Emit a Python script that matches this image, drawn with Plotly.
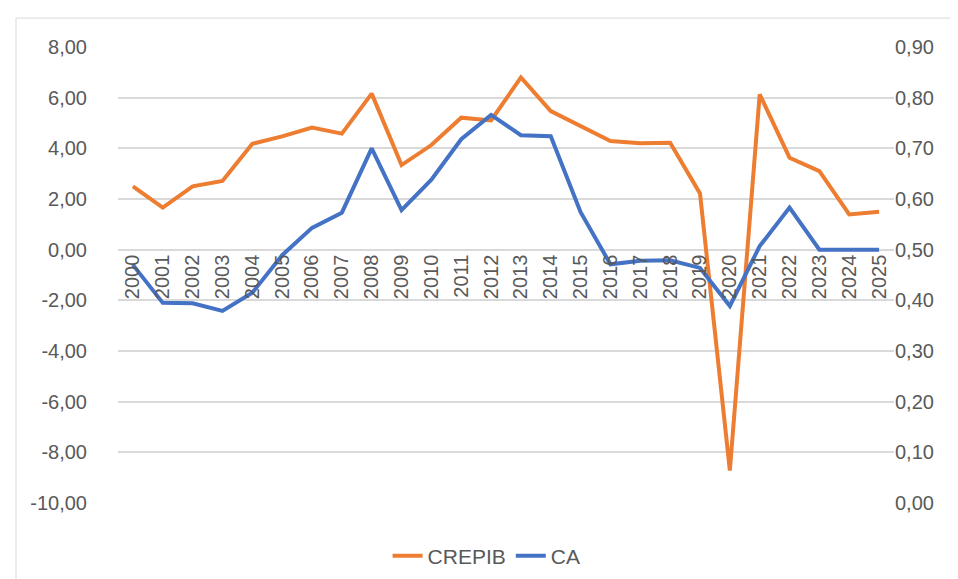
import plotly.graph_objects as go

years = list(range(2000, 2026))
crepib = [2.50, 1.66, 2.50, 2.71, 4.18, 4.47, 4.82, 4.58, 6.16, 3.34, 4.13, 5.21, 5.10,
          6.80, 5.47, 4.88, 4.29, 4.20, 4.22, 2.22, -8.72, 6.13, 3.63, 3.10, 1.39, 1.50]
ca = [0.470, 0.395, 0.394, 0.379, 0.415, 0.489, 0.543, 0.573, 0.700, 0.578, 0.638, 0.718, 0.766,
      0.726, 0.724, 0.574, 0.471, 0.478, 0.479, 0.464, 0.389, 0.507, 0.583, 0.500, 0.500, 0.500]

left_ticks = [-10, -8, -6, -4, -2, 0, 2, 4, 6, 8]
left_labels = ["-10,00", "-8,00", "-6,00", "-4,00", "-2,00", "0,00", "2,00", "4,00", "6,00", "8,00"]
right_ticks = [0.0, 0.1, 0.2, 0.3, 0.4, 0.5, 0.6, 0.7, 0.8, 0.9]
right_labels = ["0,00", "0,10", "0,20", "0,30", "0,40", "0,50", "0,60", "0,70", "0,80", "0,90"]

ORANGE = "#ED7D31"
BLUE = "#4472C4"
GRID = "#D9D9D9"
TXT = "#595959"
FONT = "Liberation Sans"
FS = 20

fig = go.Figure()
fig.add_trace(go.Scatter(x=years, y=crepib, name="CREPIB", mode="lines",
                         line=dict(color=ORANGE, width=4), yaxis="y"))
fig.add_trace(go.Scatter(x=years, y=ca, name="CA", mode="lines",
                         line=dict(color=BLUE, width=4), yaxis="y2"))

zero_pos = 10 / 18

fig.update_layout(
    width=958, height=579,
    margin=dict(l=110, r=72, t=39, b=83),
    paper_bgcolor="white", plot_bgcolor="white",
    font=dict(family=FONT, size=FS, color=TXT),
    showlegend=True,
    legend=dict(orientation="h", x=0.475, xanchor="center", y=-0.114, yanchor="middle",
                font=dict(size=21, color=TXT), traceorder="normal"),
    xaxis=dict(range=[1999.5, 2025.5], tickmode="array", tickvals=years,
               ticktext=[str(y) for y in years], tickangle=-90,
               anchor="free", position=zero_pos, showgrid=False, zeroline=False,
               showline=False, ticks="", tickfont=dict(size=FS, color=TXT)),
    yaxis=dict(range=[-10, 8], tickmode="array", tickvals=left_ticks, ticktext=left_labels,
               showgrid=True, gridcolor=GRID, gridwidth=1.5, zeroline=False, showline=False,
               ticks="", ticklabelstandoff=30, tickfont=dict(size=FS, color=TXT)),
    yaxis2=dict(range=[0, 0.9], tickmode="array", tickvals=right_ticks, ticktext=right_labels,
                overlaying="y", side="right", showgrid=False, zeroline=False, showline=False,
                ticks="", ticklabelstandoff=0, tickfont=dict(size=FS, color=TXT)),
    shapes=[dict(type="rect", xref="paper", yref="paper",
                 x0=-102/776, x1=(958-110-1)/776, y0=-82/457, y1=1 + 29/457,
                 line=dict(color=GRID, width=1), fillcolor="rgba(0,0,0,0)", layer="below")],
)

fig.write_html("out.html")
